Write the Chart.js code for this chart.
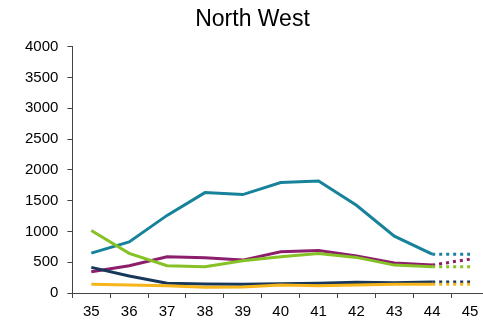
<!DOCTYPE html>
<html>
<head>
<meta charset="utf-8">
<script src="https://cdn.jsdelivr.net/npm/chart.js@4/dist/chart.umd.min.js"></script>
<style>
  html, body { margin: 0; padding: 0; background: #fff; overflow: hidden; }
  #wrap { width: 494px; height: 326px; }
</style>
</head>
<body>
<div id="wrap"><canvas id="chart"></canvas></div>
<script>
"use strict"

// weeks along the bottom
const weeks = ["35", "36", "37", "38", "39", "40", "41", "42", "43", "44", "45"];

// series values (last point = dotted projection)
const tealSeries = [648, 830, 1260, 1630, 1598, 1792, 1818, 1425, 923, 631, 631];
const magentaSeries = [345, 443, 588, 572, 534, 669, 691, 599, 486, 453, 550];
const greenSeries = [1015, 643, 443, 426, 523, 588, 643, 578, 453, 426, 426];
const navySeries = [416, 275, 157, 146, 141, 151, 157, 173, 167, 178, 178];
const orangeSeries = [141, 130, 118, 92, 97, 130, 118, 130, 141, 141, 141];

const yTicks = [0, 500, 1000, 1500, 2000, 2500, 3000, 3500, 4000];

function makeLine(label, values, colour) {
    return {
        label: label,
        data: values,
        borderColor: colour,
        backgroundColor: colour,
        borderWidth: 3,
        pointRadius: 0,
        tension: 0,
        fill: false,
        segment: {
            // last segment is the dotted bit
            borderDash: ctx => ctx.p0DataIndex === weeks.length - 2 ? [3, 4] : undefined
        }
    };
}

const data = {
    labels: weeks,
    datasets: [
        makeLine("orange", orangeSeries, "#f7b51c"),
        makeLine("navy", navySeries, "#17385a"),
        makeLine("green", greenSeries, "#86c226"),
        makeLine("magenta", magentaSeries, "#8c1e6c"),
        makeLine("teal", tealSeries, "#17839a"),
    ],
};

const config = {
    type: "line",
    data: data,
    options: {
        responsive: true,
        maintainAspectRatio: false,
        animation: false,
        layout: { padding: { left: 16, right: 5, top: 0, bottom: 0 } },
        plugins: {
            legend: { display: false },
            tooltip: { enabled: false },
            title: {
                display: true,
                text: "North West",
                color: "#000",
                font: { family: "Liberation Sans", size: 23, weight: "normal" },
                padding: { top: 6, bottom: 13 }
            }
        },
        scales: {
            x: {
                offset: true,
                grid: { display: true, drawOnChartArea: false, drawTicks: true, tickLength: 5, color: "#444", offset: true },
                border: { display: true, color: "#444", width: 1 },
                ticks: { color: "#000", font: { family: "Liberation Sans", size: 15 }, padding: 5, maxRotation: 0, autoSkip: false }
            },
            y: {
                min: 0,
                max: 4000,
                afterBuildTicks: axis => { axis.ticks = yTicks.map(v => ({ value: v })); },
                grid: { display: true, drawOnChartArea: false, drawTicks: true, tickLength: 5, color: "#444" },
                border: { display: true, color: "#444", width: 1 },
                ticks: { color: "#000", font: { family: "Liberation Sans", size: 15 }, padding: 9, callback: v => String(v) }
            }
        }
    }
};

const myChart = new Chart(document.getElementById("chart"), config);
</script>
</body>
</html>
